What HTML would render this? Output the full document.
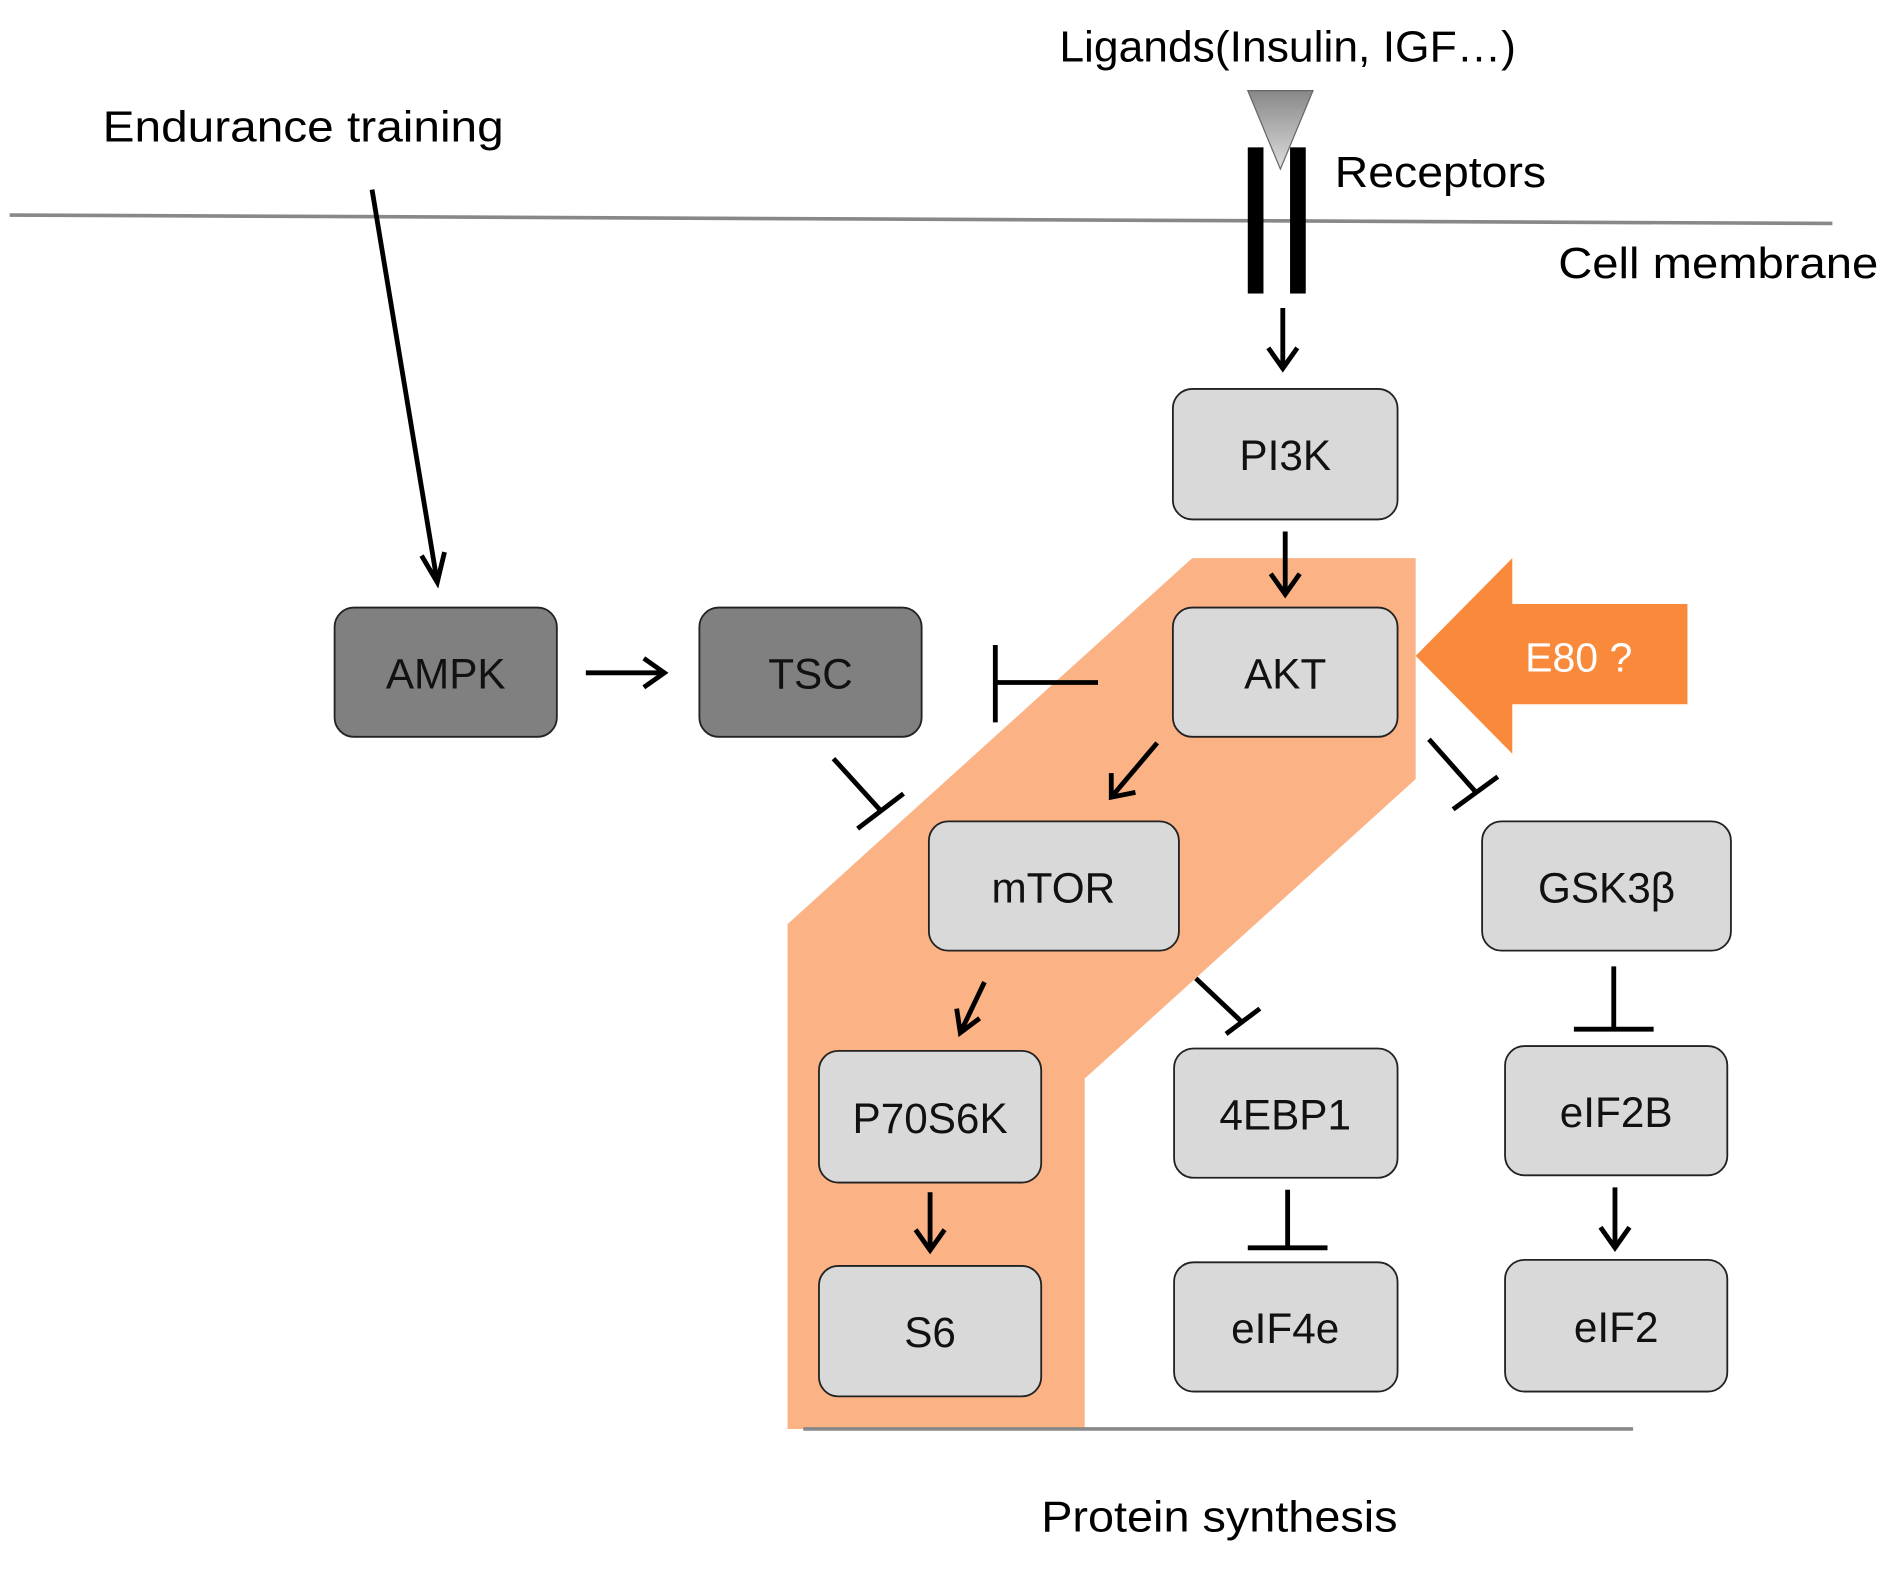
<!DOCTYPE html>
<html><head><style>html,body{margin:0;padding:0;background:#fff}svg{display:block}</style></head>
<body>
<svg width="1894" height="1572" viewBox="0 0 1568 1301.4" preserveAspectRatio="none" xmlns="http://www.w3.org/2000/svg" font-family="Liberation Sans, sans-serif">
<defs>
<linearGradient id="tg" x1="0" y1="0" x2="0" y2="1"><stop offset="0" stop-color="#888"/><stop offset="1" stop-color="#ddd"/></linearGradient>
</defs>
<line x1="8" y1="178" x2="1517" y2="185" stroke="#888" stroke-width="3"/>
<text x="85" y="117" font-size="36" textLength="332" lengthAdjust="spacingAndGlyphs">Endurance training</text>
<text x="877" y="51" font-size="36" textLength="378" lengthAdjust="spacingAndGlyphs">Ligands(Insulin, IGF…)</text>
<text x="1105" y="155" font-size="36" textLength="175" lengthAdjust="spacingAndGlyphs">Receptors</text>
<text x="1290" y="230" font-size="36" textLength="265" lengthAdjust="spacingAndGlyphs">Cell membrane</text>
<polygon points="1033,75 1087,75 1060,140" fill="url(#tg)" stroke="#666" stroke-width="1"/>
<rect x="1033" y="122" width="13" height="121" fill="#000"/>
<rect x="1068" y="122" width="13" height="121" fill="#000"/>

<polygon points="987,462 1172,462 1172,645 898,893 898,1183 652,1183 652,765" fill="#FBB385"/>
<polygon points="1172,543 1252,462 1252,500 1397,500 1397,583 1252,583 1252,624" fill="#F98A3C"/>
<text x="1307" y="556" font-size="34" fill="#fff" text-anchor="middle">E80 ?</text>
<line x1="665" y1="1183" x2="1352" y2="1183" stroke="#888" stroke-width="3"/>
<text x="862" y="1268" font-size="36" textLength="295" lengthAdjust="spacingAndGlyphs">Protein synthesis</text>

<g stroke="#000" stroke-width="4" fill="none">
<line x1="308" y1="157" x2="362" y2="482"/>
<polyline points="349,460 362,482 368,457"/>
<line x1="1062" y1="255" x2="1062" y2="305"/>
<polyline points="1050,288 1062,305 1074,288"/>
<line x1="1064" y1="440" x2="1064" y2="492"/>
<polyline points="1052,475 1064,492 1076,475"/>
<line x1="485" y1="557" x2="550" y2="557"/>
<polyline points="533,545 550,557 533,569"/>
<line x1="958" y1="615" x2="920" y2="660"/>
<polyline points="920,640 920,660 940,656"/>
<line x1="815" y1="813" x2="795" y2="855"/>
<polyline points="792,835 795,855 811,843"/>
<line x1="770" y1="987" x2="770" y2="1035"/>
<polyline points="758,1018 770,1035 782,1018"/>
<line x1="1337" y1="983" x2="1337" y2="1033"/>
<polyline points="1325,1016 1337,1033 1349,1016"/>
<line x1="909" y1="565" x2="824" y2="565"/><line x1="824" y1="534" x2="824" y2="598"/>
<line x1="690" y1="628" x2="729" y2="671"/><line x1="710" y1="686" x2="748" y2="657"/>
<line x1="1183" y1="612" x2="1222" y2="656"/><line x1="1203" y1="670" x2="1240" y2="643"/>
<line x1="990" y1="810" x2="1027" y2="845"/><line x1="1015" y1="856" x2="1043" y2="835"/>
<line x1="1336" y1="800" x2="1336" y2="852"/><line x1="1303" y1="852" x2="1369" y2="852"/>
<line x1="1066" y1="985" x2="1066" y2="1033"/><line x1="1033" y1="1033" x2="1099" y2="1033"/>
</g>

<g stroke="#222" stroke-width="1.5">
<rect x="971" y="322" width="186" height="108" rx="16" fill="#d9d9d9"/>
<rect x="971" y="503" width="186" height="107" rx="16" fill="#d9d9d9"/>
<rect x="277" y="503" width="184" height="107" rx="16" fill="#808080"/>
<rect x="579" y="503" width="184" height="107" rx="16" fill="#808080"/>
<rect x="769" y="680" width="207" height="107" rx="16" fill="#d9d9d9"/>
<rect x="1227" y="680" width="206" height="107" rx="16" fill="#d9d9d9"/>
<rect x="678" y="870" width="184" height="109" rx="16" fill="#d9d9d9"/>
<rect x="972" y="868" width="185" height="107" rx="16" fill="#d9d9d9"/>
<rect x="1246" y="866" width="184" height="107" rx="16" fill="#d9d9d9"/>
<rect x="678" y="1048" width="184" height="108" rx="16" fill="#d9d9d9"/>
<rect x="972" y="1045" width="185" height="107" rx="16" fill="#d9d9d9"/>
<rect x="1246" y="1043" width="184" height="109" rx="16" fill="#d9d9d9"/>
</g>
<g font-size="35" text-anchor="middle" fill="#111">
<text x="1064" y="389">PI3K</text>
<text x="1064" y="570">AKT</text>
<text x="369" y="570">AMPK</text>
<text x="671" y="570">TSC</text>
<text x="872" y="747">mTOR</text>
<text x="1330" y="747">GSK3β</text>
<text x="770" y="938">P70S6K</text>
<text x="1064" y="935">4EBP1</text>
<text x="1338" y="933">eIF2B</text>
<text x="770" y="1115">S6</text>
<text x="1064" y="1112">eIF4e</text>
<text x="1338" y="1111">eIF2</text>
</g>
</svg>
</body></html>
